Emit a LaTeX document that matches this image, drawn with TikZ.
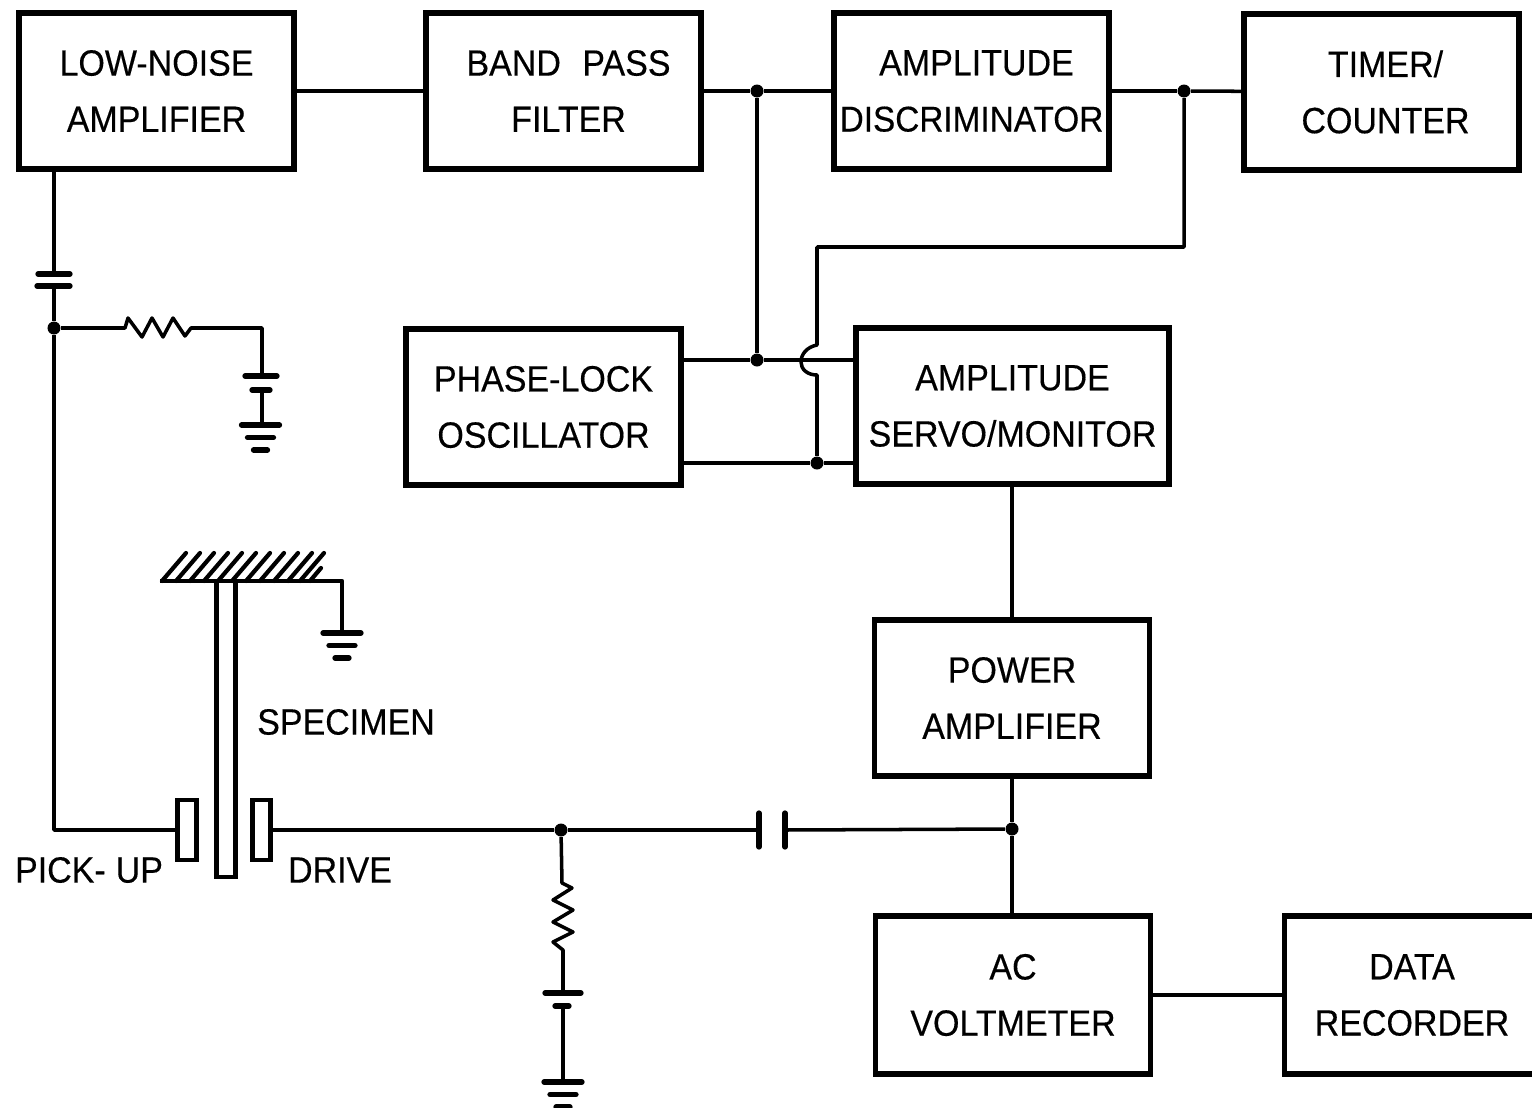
\documentclass[tikz,border=0pt]{standalone}
\usepackage{fontspec}
\setmainfont[FakeStretch=0.93,FakeBold=0.35]{Liberation Sans}
\usetikzlibrary{calc}

\begin{document}
\begin{tikzpicture}[
    block/.style={draw, line width=1.5pt, minimum width=2.75cm, minimum height=1.56cm, align=center, inner sep=0pt, font=\fontsize{10.4}{16}\selectfont},
    tag/.style={inner sep=0pt, font=\fontsize{10.4}{16}\selectfont},
    wire/.style={line width=1pt, line join=round},
    plate/.style={line width=1.5pt, line cap=round},
    joint/.style={circle, fill=black, inner sep=0pt, minimum size=0.13cm}
]
    \useasboundingbox (0,0) rectangle (15.32,11.07);

    % Blocks
    \node[block] (lna) at (1.565,10.16) {LOW-NOISE\\AMPLIFIER};
    \node[block] (bpf) at (5.635,10.16) {\hspace*{0.1cm}BAND\hspace{0.12cm} PASS\\\hspace*{0.1cm}FILTER};
    \node[block] (disc) at (9.715,10.16) {\hspace*{0.1cm}AMPLITUDE\\\fontsize{10.2}{15}\selectfont DISCRIMINATOR};
    \node[block] (timer) at (13.815,10.15) {\hspace*{0.08cm}TIMER/\\\hspace*{0.08cm}COUNTER};
    \node[block] (plo) at (5.435,7.0) {PHASE-LOCK\\OSCILLATOR};
    \node[block, minimum width=3.13cm] (servo) at (10.125,7.01) {AMPLITUDE\\SERVO/MONITOR};
    \node[block] (power) at (10.12,4.09) {POWER\\AMPLIFIER};
    \node[block, minimum height=1.58cm] (acv) at (10.13,1.12) {AC\\VOLTMETER};
    \node[block, minimum height=1.58cm, minimum width=2.55cm] (rec) at (14.12,1.12) {DATA\\RECORDER};

    % Labels
    \node[tag] (specimen) at (3.46,3.85) {SPECIMEN};
    \node[tag] (pickup) at (0.89,2.37) {PICK-\hspace{0.1cm}UP};
    \node[tag] (drive) at (3.40,2.37) {DRIVE};

    % Specimen and electrodes
    \node[draw, line width=1.2pt, minimum width=0.19cm, minimum height=2.96cm, inner sep=0pt] (bar) at (2.26,3.78) {};
    \node[draw, line width=1.2pt, minimum width=0.19cm, minimum height=0.6cm, inner sep=0pt] (pick) at (1.87,2.77) {};
    \node[draw, line width=1.2pt, minimum width=0.18cm, minimum height=0.6cm, inner sep=0pt] (drv) at (2.615,2.77) {};

    % Junctions
    \node[joint] (j1) at (7.57,10.16) {};
    \node[joint] (j2) at (11.84,10.16) {};
    \node[joint] (j3) at (7.57,7.47) {};
    \node[joint] (j4) at (8.17,6.44) {};
    \node[joint] (j5) at (10.12,2.78) {};
    \node[joint] (j6) at (0.54,7.79) {};
    \node[joint] (j7) at (5.61,2.77) {};

    % Top row
    \draw[wire] (lna) -- (bpf);
    \draw[wire] (bpf) -- (j1) -- (disc);
    \draw[wire] (disc) -- (j2) -- (timer);
    \draw[wire] (j1) -- (j3);
    \draw[wire] (j2) -- (11.84,8.6) -- (8.17,8.6) -- (8.17,7.62)
        .. controls (8.07,7.60) and (8.01,7.53) .. (8.01,7.45)
        .. controls (8.01,7.38) and (8.07,7.32) .. (8.17,7.32) -- (j4);

    % Oscillator to servo
    \draw[wire] (plo.east |- j3) -- (j3) -- (servo.west |- j3);
    \draw[wire] (plo.east |- j4) -- (j4) -- (servo.west |- j4);

    % Right column
    \draw[wire] (servo.south -| power) -- (power);
    \draw[wire] (power) -- (j5) -- (acv.north -| j5);
    \draw[wire] (acv.east |- 0,1.12) -- (rec.west |- 0,1.12);

    % Input branch
    \coordinate (c1) at (0.54,8.33);
    \coordinate (c2) at (0.54,8.21);
    \draw[wire] (lna.south -| c1) -- (c1);
    \draw[wire] (c2) -- (j6) -- (pick.west -| j6) -- (pick.west);
    \draw[plate] (0.38,8.33) -- (0.70,8.33);
    \draw[plate] (0.37,8.21) -- (0.70,8.21);
    \draw[wire] (j6) -- (1.25,7.79) -- (1.28,7.89) -- (1.42,7.70) -- (1.52,7.89) -- (1.63,7.70) -- (1.73,7.89) -- (1.85,7.71) -- (1.91,7.79) -- (2.62,7.79) -- (2.62,7.31);
    \draw[plate] (2.45,7.31) -- (2.77,7.31);
    \draw[plate] (2.52,7.17) -- (2.70,7.17);
    \draw[wire] (2.62,7.17) -- (2.62,6.82);

    % Drive branch
    \coordinate (c3) at (7.59,2.77);
    \coordinate (c4) at (7.85,2.77);
    \draw[wire] (drv.east) -- (j7) -- (c3);
    \draw[wire] (c4) -- (j5);
    \draw[plate] (7.59,2.60) -- (7.59,2.94);
    \draw[plate] (7.85,2.60) -- (7.85,2.94);
    \draw[wire] (j7) -- (5.62,2.24) -- (5.72,2.19) -- (5.53,2.07) -- (5.73,1.97) -- (5.53,1.85) -- (5.73,1.75) -- (5.53,1.65) -- (5.63,1.57) -- (5.63,1.14);
    \draw[plate] (5.45,1.14) -- (5.81,1.14);
    \draw[plate] (5.55,1.01) -- (5.69,1.01);
    \draw[wire] (5.63,1.01) -- (5.63,0.25);

    % Clamp
    \draw[wire, line width=1.2pt] (1.60,5.26) -- (3.42,5.26) -- (3.42,4.74);
    \foreach \x in {1.62,1.76,1.90,2.04,2.18,2.32,2.46,2.60,2.74,2.88,3.00} {
        \draw[line width=1.2pt, line cap=round] (\x,5.26) -- ++(0.24,0.28);
    }
    \draw[line width=1.2pt, line cap=round] (3.10,5.26) -- ++(0.11,0.13);

    % Grounds
    \foreach \x/\y in {2.605/6.82, 3.42/4.74, 5.63/0.25} {
        \draw[plate] (\x-0.19,\y) -- (\x+0.19,\y);
        \draw[plate] (\x-0.13,\y-0.125) -- (\x+0.13,\y-0.125);
        \draw[plate] (\x-0.07,\y-0.25) -- (\x+0.07,\y-0.25);
    }
\end{tikzpicture}
\end{document}
